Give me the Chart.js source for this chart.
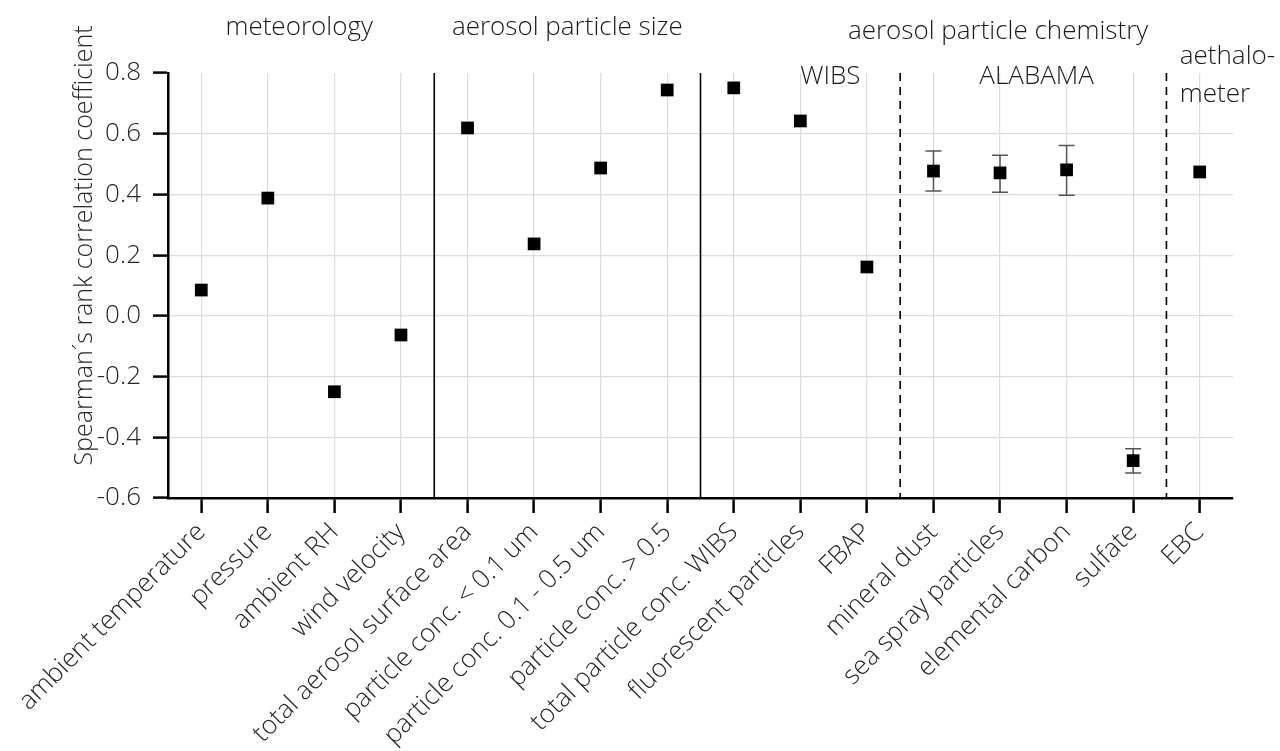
<!DOCTYPE html>
<html>
<head>
<meta charset="utf-8">
<title>Spearman rank correlation</title>
<script src="https://cdn.jsdelivr.net/npm/chart.js@4.4.1/dist/chart.umd.min.js"></script>
<style>
  html, body { margin: 0; padding: 0; background: #fff; }
  #wrap { width: 1280px; height: 751px; position: relative; }
</style>
</head>
<body>
<div id="wrap"><canvas id="rhoChart"></canvas></div>
<script>
// ── Data ──
const categories = [
  'ambient temperature', 'pressure', 'ambient RH', 'wind velocity',
  'total aerosol surface area', 'particle conc. < 0.1 um', 'particle conc. 0.1 - 0.5 um', 'particle conc. > 0.5',
  'total particle conc. WIBS', 'fluorescent particles', 'FBAP',
  'mineral dust', 'sea spray particles', 'elemental carbon', 'sulfate', 'EBC'
];
const rho = [0.085, 0.388, -0.250, -0.063, 0.619, 0.237, 0.487, 0.744,
             0.751, 0.642, 0.161, 0.477, 0.471, 0.481, -0.477, 0.474];
const errLow  = [null, null, null, null, null, null, null, null, null, null, null, 0.411, 0.407, 0.397, -0.518, null];
const errHigh = [null, null, null, null, null, null, null, null, null, null, null, 0.543, 0.529, 0.561, -0.438, null];
const yTicks = [-0.6, -0.4, -0.2, 0.0, 0.2, 0.4, 0.6, 0.8];
const yTitle = 'Spearman´s rank correlation coefficient';

// separators drawn after these category indexes
const sepAfter = [3, 7, 10, 14];
const sepDashed = [false, false, true, true];

// group headings: position in category units
const groups = [
  { text: 'meteorology', at: 1.47, dy: -45, align: 'center' },
  { text: 'aerosol particle size', at: 5.5, dy: -45, align: 'center' },
  { text: 'aerosol particle chemistry', at: 11.97, dy: -41, align: 'center' },
  { text: 'WIBS', at: 9.45, dy: 4, align: 'center' },
  { text: 'ALABAMA', at: 12.55, dy: 4, align: 'center' },
  { text: 'aethalo-', at: 14.7, dy: -16, align: 'left' },
  { text: 'meter', at: 14.7, dy: 22, align: 'left' }
];

const FONT = "'Open Sans', 'Segoe UI', 'DejaVu Sans', sans-serif";

// ── Overlay: separators, error bars, headings, axis title ──
const overlay = {
  id: 'overlay',
  beforeDatasetsDraw(chart) {
    const { ctx, chartArea, scales: { x, y } } = chart;
    ctx.save();
    // group separators
    sepAfter.forEach((idx, k) => {
      const px = (x.getPixelForValue(idx) + x.getPixelForValue(idx + 1)) / 2;
      ctx.beginPath();
      ctx.strokeStyle = '#000';
      ctx.lineWidth = 1.6;
      ctx.setLineDash(sepDashed[k] ? [8, 6] : []);
      ctx.moveTo(px, chartArea.top);
      ctx.lineTo(px, chartArea.bottom);
      ctx.stroke();
    });
    ctx.setLineDash([]);
    // error bars
    ctx.strokeStyle = '#555';
    ctx.lineWidth = 1.5;
    rho.forEach((v, i) => {
      if (errLow[i] == null) return;
      const px = x.getPixelForValue(i);
      const lo = y.getPixelForValue(errLow[i]);
      const hi = y.getPixelForValue(errHigh[i]);
      ctx.beginPath();
      ctx.moveTo(px, lo); ctx.lineTo(px, hi);
      ctx.moveTo(px - 8, lo); ctx.lineTo(px + 8, lo);
      ctx.moveTo(px - 8, hi); ctx.lineTo(px + 8, hi);
      ctx.stroke();
    });
    ctx.restore();
  },
  afterDraw(chart) {
    const { ctx, chartArea, scales: { x } } = chart;
    const step = x.getPixelForValue(1) - x.getPixelForValue(0);
    ctx.save();
    ctx.fillStyle = '#1a1a1a';
    ctx.font = '300 26px ' + FONT;
    ctx.textBaseline = 'middle';
    groups.forEach(g => {
      const px = x.getPixelForValue(0) + g.at * step;
      ctx.textAlign = g.align;
      ctx.fillText(g.text, px, chartArea.top + g.dy);
    });
    // y axis title, sits a bit above the middle of the axis
    ctx.fillStyle = '#262626';
    ctx.font = '300 25px ' + FONT;
    ctx.textAlign = 'center';
    ctx.translate(chartArea.left - 83, (chartArea.top + chartArea.bottom) / 2 - 40);
    ctx.rotate(-Math.PI / 2);
    ctx.fillText(yTitle, 0, 0);
    ctx.restore();
  }
};

// ── Chart ──
const ctx = document.getElementById('rhoChart').getContext('2d');
new Chart(ctx, {
  type: 'line',
  data: {
    labels: categories,
    datasets: [{
      data: rho,
      showLine: false,
      pointStyle: 'rect',
      pointRadius: 9,
      pointHoverRadius: 9,
      pointBackgroundColor: '#000',
      pointBorderWidth: 0
    }]
  },
  plugins: [overlay],
  options: {
    responsive: true,
    maintainAspectRatio: false,
    animation: false,
    layout: { padding: { left: 0, top: 73, right: 47, bottom: 0 } },
    plugins: { legend: { display: false }, tooltip: { enabled: false } },
    scales: {
      x: {
        type: 'category',
        offset: true,
        afterFit: s => { s.height = 253; },
        grid: {
          offset: false,
          color: '#dcdcdc',
          lineWidth: 1.2,
          tickColor: '#000',
          tickLength: 15,
          tickWidth: 2.5
        },
        border: { color: '#000', width: 2.5 },
        ticks: {
          autoSkip: false,
          minRotation: 45,
          maxRotation: 45,
          padding: 4,
          color: '#262626',
          font: { family: FONT, size: 26, weight: '300' }
        }
      },
      y: {
        min: -0.6,
        max: 0.8,
        afterFit: s => { s.width = 168; },
        afterBuildTicks: s => { s.ticks = yTicks.map(v => ({ value: v })); },
        grid: {
          color: c => (c.tick && c.tick.value >= 0.79) ? 'rgba(0,0,0,0)' : '#dcdcdc',
          lineWidth: 1.2,
          tickColor: '#000',
          tickLength: 15,
          tickWidth: 2.5
        },
        border: { color: '#000', width: 2.5 },
        ticks: {
          padding: 12,
          color: '#262626',
          font: { family: FONT, size: 26, weight: '300' },
          callback: v => Math.abs(v) < 1e-9 ? '0.0' : Number(v).toFixed(1)
        }
      }
    }
  }
});
</script>
</body>
</html>
